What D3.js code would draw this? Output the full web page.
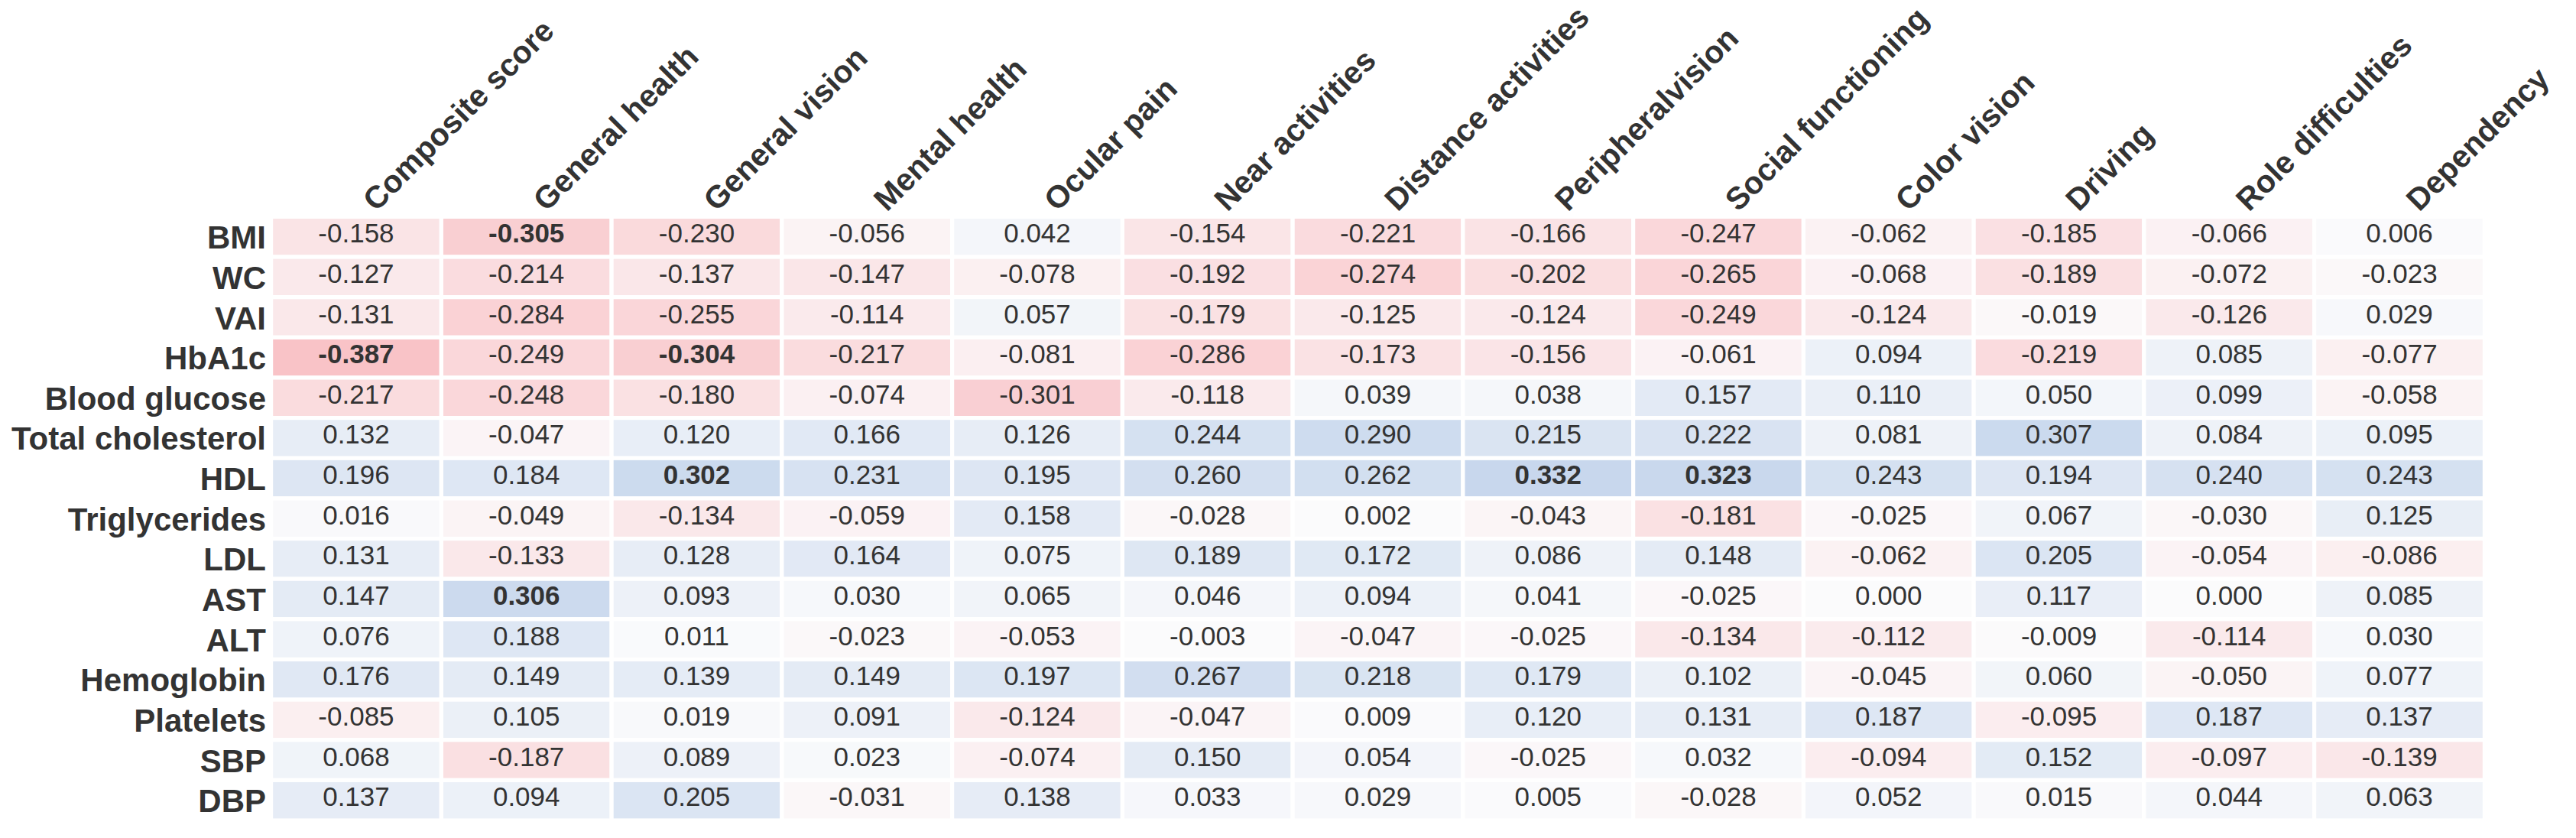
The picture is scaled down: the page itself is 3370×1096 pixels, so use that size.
<!DOCTYPE html>
<html>
<head>
<meta charset="utf-8">
<script src="https://cdn.jsdelivr.net/npm/d3@7"></script>
<style>
  html, body { margin: 0; padding: 0; background: #fff; }
  svg { display: block; font-family: "Liberation Sans", Arial, sans-serif; }
</style>
</head>
<body>
<div id="chart"></div>
<script>
// -------------------------------------------------------------------------
// Data

const rowLabels = ['BMI', 'WC', 'VAI', 'HbA1c', 'Blood glucose', 'Total cholesterol', 'HDL',
  'Triglycerides', 'LDL', 'AST', 'ALT', 'Hemoglobin', 'Platelets', 'SBP', 'DBP'];

const colLabels = ['Composite score', 'General health', 'General vision', 'Mental health',
  'Ocular pain', 'Near activities', 'Distance activities', 'Peripheralvision',
  'Social functioning', 'Color vision', 'Driving', 'Role difficulties', 'Dependency'];

// one array per row, in column order
const bmi = [-0.158, -0.305, -0.230, -0.056, 0.042, -0.154, -0.221, -0.166, -0.247, -0.062, -0.185, -0.066, 0.006];
const wc = [-0.127, -0.214, -0.137, -0.147, -0.078, -0.192, -0.274, -0.202, -0.265, -0.068, -0.189, -0.072, -0.023];
const vai = [-0.131, -0.284, -0.255, -0.114, 0.057, -0.179, -0.125, -0.124, -0.249, -0.124, -0.019, -0.126, 0.029];
const hba1c = [-0.387, -0.249, -0.304, -0.217, -0.081, -0.286, -0.173, -0.156, -0.061, 0.094, -0.219, 0.085, -0.077];
const bloodGlucose = [-0.217, -0.248, -0.180, -0.074, -0.301, -0.118, 0.039, 0.038, 0.157, 0.110, 0.050, 0.099, -0.058];
const totalCholesterol = [0.132, -0.047, 0.120, 0.166, 0.126, 0.244, 0.290, 0.215, 0.222, 0.081, 0.307, 0.084, 0.095];
const hdl = [0.196, 0.184, 0.302, 0.231, 0.195, 0.260, 0.262, 0.332, 0.323, 0.243, 0.194, 0.240, 0.243];
const triglycerides = [0.016, -0.049, -0.134, -0.059, 0.158, -0.028, 0.002, -0.043, -0.181, -0.025, 0.067, -0.030, 0.125];
const ldl = [0.131, -0.133, 0.128, 0.164, 0.075, 0.189, 0.172, 0.086, 0.148, -0.062, 0.205, -0.054, -0.086];
const ast = [0.147, 0.306, 0.093, 0.030, 0.065, 0.046, 0.094, 0.041, -0.025, 0.000, 0.117, 0.000, 0.085];
const alt = [0.076, 0.188, 0.011, -0.023, -0.053, -0.003, -0.047, -0.025, -0.134, -0.112, -0.009, -0.114, 0.030];
const hemoglobin = [0.176, 0.149, 0.139, 0.149, 0.197, 0.267, 0.218, 0.179, 0.102, -0.045, 0.060, -0.050, 0.077];
const platelets = [-0.085, 0.105, 0.019, 0.091, -0.124, -0.047, 0.009, 0.120, 0.131, 0.187, -0.095, 0.187, 0.137];
const sbp = [0.068, -0.187, 0.089, 0.023, -0.074, 0.150, 0.054, -0.025, 0.032, -0.094, 0.152, -0.097, -0.139];
const dbp = [0.137, 0.094, 0.205, -0.031, 0.138, 0.033, 0.029, 0.005, -0.028, 0.052, 0.015, 0.044, 0.063];

const values = [bmi, wc, vai, hba1c, bloodGlucose, totalCholesterol, hdl,
  triglycerides, ldl, ast, alt, hemoglobin, platelets, sbp, dbp];

// cells printed in bold: [row, column]
const boldCells = [['BMI', 'General health'], ['HbA1c', 'Composite score'], ['HbA1c', 'General vision'],
  ['HDL', 'General vision'], ['HDL', 'Peripheralvision'], ['HDL', 'Social functioning'],
  ['AST', 'General health']];

// -------------------------------------------------------------------------
// Layout

const chartWidth = 3370;
const chartHeight = 1096;
const gridLeft = 354.6;
const gridRight = 3250.4;
const gridTop = 283.4;
const gridBottom = 1073;
const textColor = '#333333';

let cells = [];
rowLabels.forEach((r, i) => {
  colLabels.forEach((c, j) => {
    cells.push({
      row: r,
      col: c,
      value: values[i][j],
      bold: boldCells.some(b => b[0] === r && b[1] === c)
    });
  });
});

let svg = d3.select('#chart')
  .append('svg')
  .attr('width', chartWidth)
  .attr('height', chartHeight);

let x = d3.scaleBand()
  .domain(colLabels)
  .range([gridLeft, gridRight]);

let y = d3.scaleBand()
  .domain(rowLabels)
  .range([gridTop, gridBottom]);

// pale red for negative, pale blue for positive
let color = d3.scaleLinear()
  .domain([-0.4, 0, 0.4])
  .range(['#f9c1c5', '#fbfbfc', '#bdd0ea'])
  .clamp(true);

// -------------------------------------------------------------------------
// Cells

let g = svg.append('g');

g.selectAll('rect')
  .data(cells)
  .enter()
  .append('rect')
  .attr('x', d => x(d.col))
  .attr('y', d => y(d.row))
  .attr('width', x.bandwidth())
  .attr('height', y.bandwidth())
  .attr('fill', d => color(d.value))
  .attr('stroke', '#fff')
  .attr('stroke-width', 5.2);

// plain hyphen minus, like the original table
g.selectAll('text.cell')
  .data(cells)
  .enter()
  .append('text')
  .attr('class', 'cell')
  .attr('x', d => x(d.col) + x.bandwidth() / 2)
  .attr('y', d => y(d.row) + y.bandwidth() / 2 + 7.5)
  .attr('text-anchor', 'middle')
  .attr('font-size', 35)
  .attr('font-weight', d => d.bold ? 'bold' : 'normal')
  .attr('fill', textColor)
  .text(d => d.value.toFixed(3));

// -------------------------------------------------------------------------
// Labels

svg.append('g')
  .selectAll('text')
  .data(rowLabels)
  .enter()
  .append('text')
  .attr('x', 348)
  .attr('y', d => y(d) + y.bandwidth() / 2 + 15.5)
  .attr('text-anchor', 'end')
  .attr('font-size', 42)
  .attr('font-weight', 'bold')
  .attr('fill', textColor)
  .text(d => d);

svg.append('g')
  .selectAll('text')
  .data(colLabels)
  .enter()
  .append('text')
  .attr('transform', d => `translate(${x(d) + x.bandwidth() / 2 + 26},278) rotate(-45)`)
  .attr('text-anchor', 'start')
  .attr('font-size', 41)
  .attr('font-weight', 'bold')
  .attr('fill', textColor)
  .text(d => d);
</script>
</body>
</html>
